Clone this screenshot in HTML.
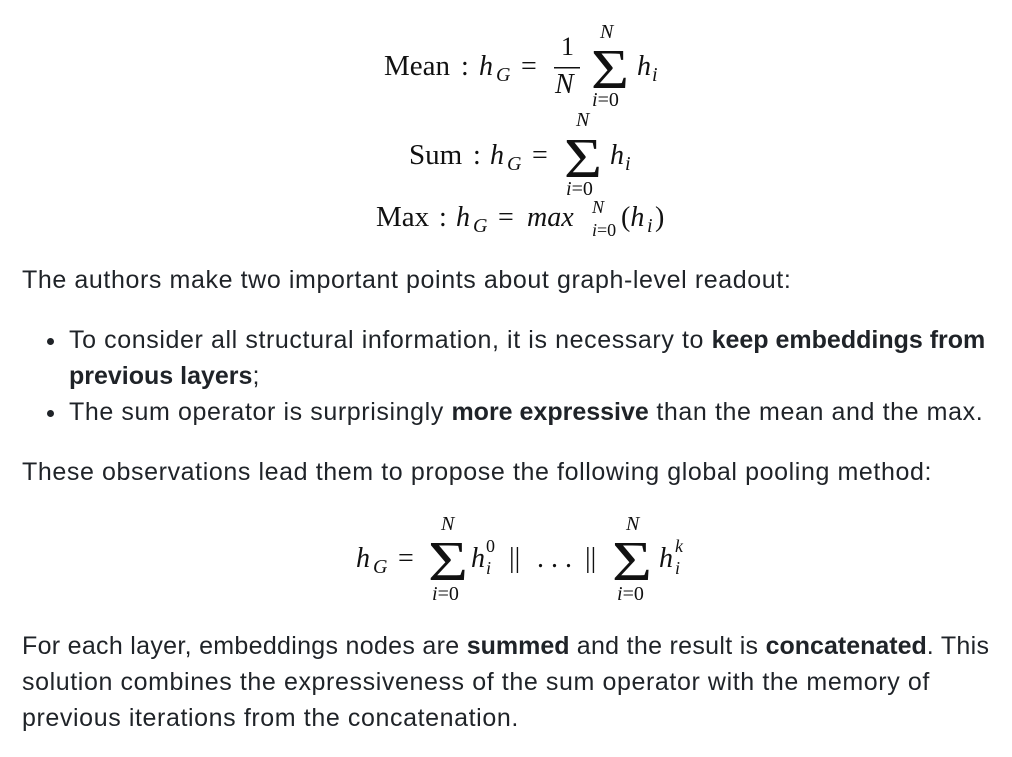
<!DOCTYPE html>
<html><head><meta charset="utf-8"><style>
html,body{margin:0;padding:0;background:#fff;width:1012px;height:757px;overflow:hidden}
.t{position:absolute;left:22px;font-family:"Liberation Sans",sans-serif;font-size:25px;letter-spacing:0.6px;color:#1f2328;white-space:nowrap;line-height:36px}
b{font-weight:bold;letter-spacing:0px}
.dot{position:absolute;width:7px;height:7px;border-radius:50%;background:#1f2328}
svg{position:absolute;left:0;top:0}
svg text{font-family:"Liberation Serif",serif;fill:#111}
.i{font-style:italic}
</style></head><body>
<svg width="1012" height="757">
<!-- Mean -->
<text x="384" y="75" font-size="29">Mean</text>
<text x="461" y="75" font-size="28">:</text>
<text x="479" y="75" font-size="28" class="i">h</text><text x="496" y="81" font-size="20" class="i">G</text>
<text x="521" y="75" font-size="28">=</text>
<text x="561" y="55" font-size="26">1</text>
<rect x="554" y="67" width="26" height="1.5" fill="#111"/>
<text x="555" y="93" font-size="28" class="i">N</text>
<text x="591" y="88" font-size="56" textLength="38" lengthAdjust="spacingAndGlyphs">Σ</text>
<text x="600" y="38" font-size="20" class="i">N</text>
<text x="592" y="106" font-size="20"><tspan class="i">i</tspan>=0</text>
<text x="637" y="75" font-size="28" class="i">h</text><text x="652" y="81" font-size="20" class="i">i</text>
<!-- Sum -->
<text x="409" y="164" font-size="29">Sum</text>
<text x="473" y="164" font-size="28">:</text>
<text x="490" y="164" font-size="28" class="i">h</text><text x="507" y="170" font-size="20" class="i">G</text>
<text x="532" y="164" font-size="28">=</text>
<text x="564" y="177" font-size="56" textLength="38" lengthAdjust="spacingAndGlyphs">Σ</text>
<text x="576" y="126" font-size="20" class="i">N</text>
<text x="566" y="195" font-size="20"><tspan class="i">i</tspan>=0</text>
<text x="610" y="164" font-size="28" class="i">h</text><text x="625" y="170" font-size="20" class="i">i</text>
<!-- Max -->
<text x="376" y="226" font-size="29">Max</text>
<text x="439" y="226" font-size="28">:</text>
<text x="456" y="226" font-size="28" class="i">h</text><text x="473" y="232" font-size="20" class="i">G</text>
<text x="498" y="226" font-size="28">=</text>
<text x="527" y="226" font-size="28" class="i">max</text>
<text x="592" y="213" font-size="18" class="i">N</text>
<text x="592" y="236" font-size="18"><tspan class="i">i</tspan>=0</text>
<text x="621" y="226" font-size="28">(<tspan class="i">h</tspan></text><text x="647" y="232" font-size="20" class="i">i</text><text x="655" y="226" font-size="28">)</text>
<!-- Big formula -->
<text x="356" y="567" font-size="28" class="i">h</text><text x="373" y="573" font-size="20" class="i">G</text>
<text x="398" y="567" font-size="28">=</text>
<text x="428" y="580" font-size="56" textLength="40" lengthAdjust="spacingAndGlyphs">Σ</text>
<text x="441" y="530" font-size="20" class="i">N</text>
<text x="432" y="600" font-size="20"><tspan class="i">i</tspan>=0</text>
<text x="471" y="567" font-size="28" class="i">h</text><text x="486" y="552" font-size="18">0</text><text x="486" y="574" font-size="18" class="i">i</text>
<text x="509" y="567" font-size="28">||</text>
<text x="537" y="567" font-size="28">. . .</text>
<text x="585" y="567" font-size="28">||</text>
<text x="612" y="580" font-size="56" textLength="40" lengthAdjust="spacingAndGlyphs">Σ</text>
<text x="626" y="530" font-size="20" class="i">N</text>
<text x="617" y="600" font-size="20"><tspan class="i">i</tspan>=0</text>
<text x="659" y="567" font-size="28" class="i">h</text><text x="675" y="552" font-size="18" class="i">k</text><text x="675" y="574" font-size="18" class="i">i</text>
</svg>
<div class="t" style="top:262px">The authors make two important points about graph-level readout:</div>
<div class="dot" style="left:47px;top:338px"></div>
<div class="t" style="left:69px;top:322px">To consider all structural information, it is necessary to <b>keep embeddings from</b></div>
<div class="t" style="left:69px;top:358px"><b>previous layers</b>;</div>
<div class="dot" style="left:47px;top:410px"></div>
<div class="t" style="left:69px;top:394px">The sum operator is surprisingly <b>more expressive</b> than the mean and the max.</div>
<div class="t" style="top:454px">These observations lead them to propose the following global pooling method:</div>
<div class="t" style="top:628px;letter-spacing:0.3px">For each layer, embeddings nodes are <b>summed</b> and the result is <b>concatenated</b>. This</div>
<div class="t" style="top:664px">solution combines the expressiveness of the sum operator with the memory of</div>
<div class="t" style="top:700px">previous iterations from the concatenation.</div>
</body></html>
